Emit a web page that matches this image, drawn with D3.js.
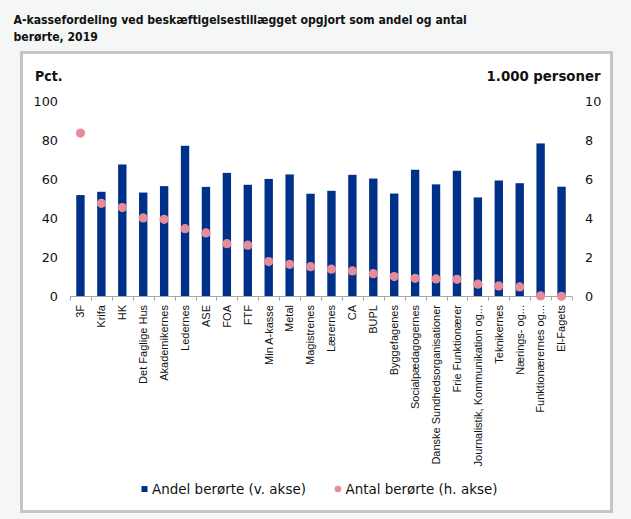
<!DOCTYPE html>
<html>
<head>
<meta charset="utf-8">
<script src="https://cdn.jsdelivr.net/npm/d3@7"></script>
<style>
  html, body { margin: 0; padding: 0; background: #f5f7f7; }
  svg { display: block; }
</style>
</head>
<body>
<script>
// ---- DATA ----
const categories = ["3F", "Krifa", "HK", "Det Faglige Hus", "Akademikernes", "Ledernes", "ASE", "FOA", "FTF",
  "Min A-kasse", "Metal", "Magistrenes", "Lærernes", "CA", "BUPL", "Byggefagenes", "Socialpædagogernes",
  "Danske Sundhedsorganisationer", "Frie Funktionærer", "Journalistik, Kommunikation og...", "Teknikernes",
  "Nærings- og...", "Funktionærernes og...", "El-Fagets"];
const andelBeroerte = [52.0, 53.7, 67.7, 53.3, 56.6, 77.3, 56.2, 63.4, 57.3, 60.3, 62.6, 52.7,
  54.2, 62.4, 60.5, 52.8, 65.0, 57.5, 64.5, 50.8, 59.5, 58.1, 78.5, 56.3];
const antalBeroerte = [8.38, 4.78, 4.56, 4.03, 3.96, 3.48, 3.26, 2.71, 2.63, 1.79, 1.65, 1.53,
  1.40, 1.31, 1.17, 1.02, 0.93, 0.90, 0.88, 0.63, 0.54, 0.49, 0.03, 0.01];
const leftTicks = [0, 20, 40, 60, 80, 100];
const rightTicks = [0, 2, 4, 6, 8, 10];
const titleLines = ["A-kassefordeling ved beskæftigelsestillægget opgjort som andel og antal", "berørte, 2019"];
const leftAxisTitle = "Pct.";
const rightAxisTitle = "1.000 personer";
const legendLabels = ["Andel berørte (v. akse)", "Antal berørte (h. akse)"];

// ---- STYLE ----
const W = 631, H = 519;
const barColor = "#00318a";
const dotColor = "#e58c9a";
const textColor = "#111";
const font = "'DejaVu Sans', Verdana, sans-serif";
const boldFont = "'DejaVu Sans Condensed', 'DejaVu Sans', Tahoma, sans-serif";

const svg = d3.select("body").append("svg").attr("width", W).attr("height", H);
svg.append("rect").attr("width", W).attr("height", H).attr("fill", "#f5f7f7");

function fit(sel, target) {
  const fs = parseFloat(sel.attr("font-size"));
  const w = sel.node().getComputedTextLength();
  sel.attr("font-size", fs * target / w);
}

// Title
const t1 = svg.append("text").attr("x", 13.5).attr("y", 24).attr("font-family", boldFont)
  .attr("font-weight", "bold").attr("font-size", 13).attr("fill", "#111").text(titleLines[0]);
fit(t1, 454);
const fsTitle = t1.attr("font-size");
svg.append("text").attr("x", 13.5).attr("y", 41).attr("font-family", boldFont)
  .attr("font-weight", "bold").attr("font-size", fsTitle).attr("fill", "#111").text(titleLines[1]);

// Frame
svg.append("rect").attr("x", 21.5).attr("y", 52.5).attr("width", 590).attr("height", 459)
  .attr("fill", "#fff").attr("stroke", "#c6c6c1").attr("stroke-width", 3);

// Scales
const x = d3.scaleBand().domain(categories).range([70, 572]).paddingInner(0.6).paddingOuter(0.3);
const yL = d3.scaleLinear().domain([0, 100]).range([296.5, 101.5]);
const yR = d3.scaleLinear().domain([0, 10]).range([296.5, 101.5]);

// Axis titles
svg.append("text").attr("x", 35).attr("y", 80.5).attr("font-family", boldFont).attr("font-weight", "bold")
  .attr("font-size", 13).attr("fill", textColor).text(leftAxisTitle).call(s => fit(s, 27.5));
svg.append("text").attr("x", 600.5).attr("y", 80.5).attr("text-anchor", "end").attr("font-family", boldFont)
  .attr("font-weight", "bold").attr("font-size", 13).attr("fill", textColor).text(rightAxisTitle)
  .call(s => fit(s, 114));

// Left ticks
svg.append("g").selectAll("text").data(leftTicks).join("text")
  .attr("x", 58).attr("y", d => yL(d)).attr("dy", "0.36em").attr("text-anchor", "end")
  .attr("font-family", font).attr("font-size", 12.8).attr("fill", textColor).text(d => d);
// Right ticks
svg.append("g").selectAll("text").data(rightTicks).join("text")
  .attr("x", 585).attr("y", d => yR(d)).attr("dy", "0.36em").attr("text-anchor", "start")
  .attr("font-family", font).attr("font-size", 12.8).attr("fill", textColor).text(d => d);

// Bars
svg.append("g").selectAll("rect").data(categories).join("rect")
  .attr("x", d => x(d)).attr("width", x.bandwidth())
  .attr("y", (d, i) => yL(andelBeroerte[i])).attr("height", (d, i) => yL(0) - yL(andelBeroerte[i]))
  .attr("fill", barColor);

// X axis line and ticks
const [r0, r1] = x.range();
svg.append("line").attr("x1", r0).attr("x2", r1).attr("y1", 296.5).attr("y2", 296.5)
  .attr("stroke", "#a6a6a6").attr("stroke-width", 1);
svg.append("g").selectAll("line").data(d3.range(categories.length + 1)).join("line")
  .attr("x1", i => Math.round(r0 + i * (r1 - r0) / categories.length) + 0.5)
  .attr("x2", i => Math.round(r0 + i * (r1 - r0) / categories.length) + 0.5)
  .attr("y1", 296.5).attr("y2", 300.5).attr("stroke", "#a6a6a6");

// Dots
svg.append("g").selectAll("circle").data(categories).join("circle")
  .attr("cx", d => x(d) + x.bandwidth() / 2).attr("cy", (d, i) => yR(antalBeroerte[i]))
  .attr("r", 4.6).attr("fill", dotColor);

// X labels
svg.append("g").selectAll("text").data(categories).join("text")
  .attr("transform", d => `translate(${x(d) + x.bandwidth() / 2},305) rotate(-90)`)
  .attr("dy", "0.35em").attr("text-anchor", "end")
  .attr("font-family", "'Liberation Sans', Arial, sans-serif").attr("font-size", 11)
  .attr("fill", textColor).text(d => d);

// Legend
const lg = svg.append("g");
lg.append("rect").attr("x", 141.5).attr("y", 486).attr("width", 6).attr("height", 6).attr("fill", barColor);
lg.append("text").attr("x", 152).attr("y", 494).attr("font-family", font).attr("font-size", 13)
  .attr("fill", textColor).text(legendLabels[0]).call(s => fit(s, 154));
lg.append("circle").attr("cx", 338).attr("cy", 489).attr("r", 3.3).attr("fill", dotColor);
lg.append("text").attr("x", 345.5).attr("y", 494).attr("font-family", font).attr("font-size", 13)
  .attr("fill", textColor).text(legendLabels[1]).call(s => fit(s, 152));
</script>
</body>
</html>
